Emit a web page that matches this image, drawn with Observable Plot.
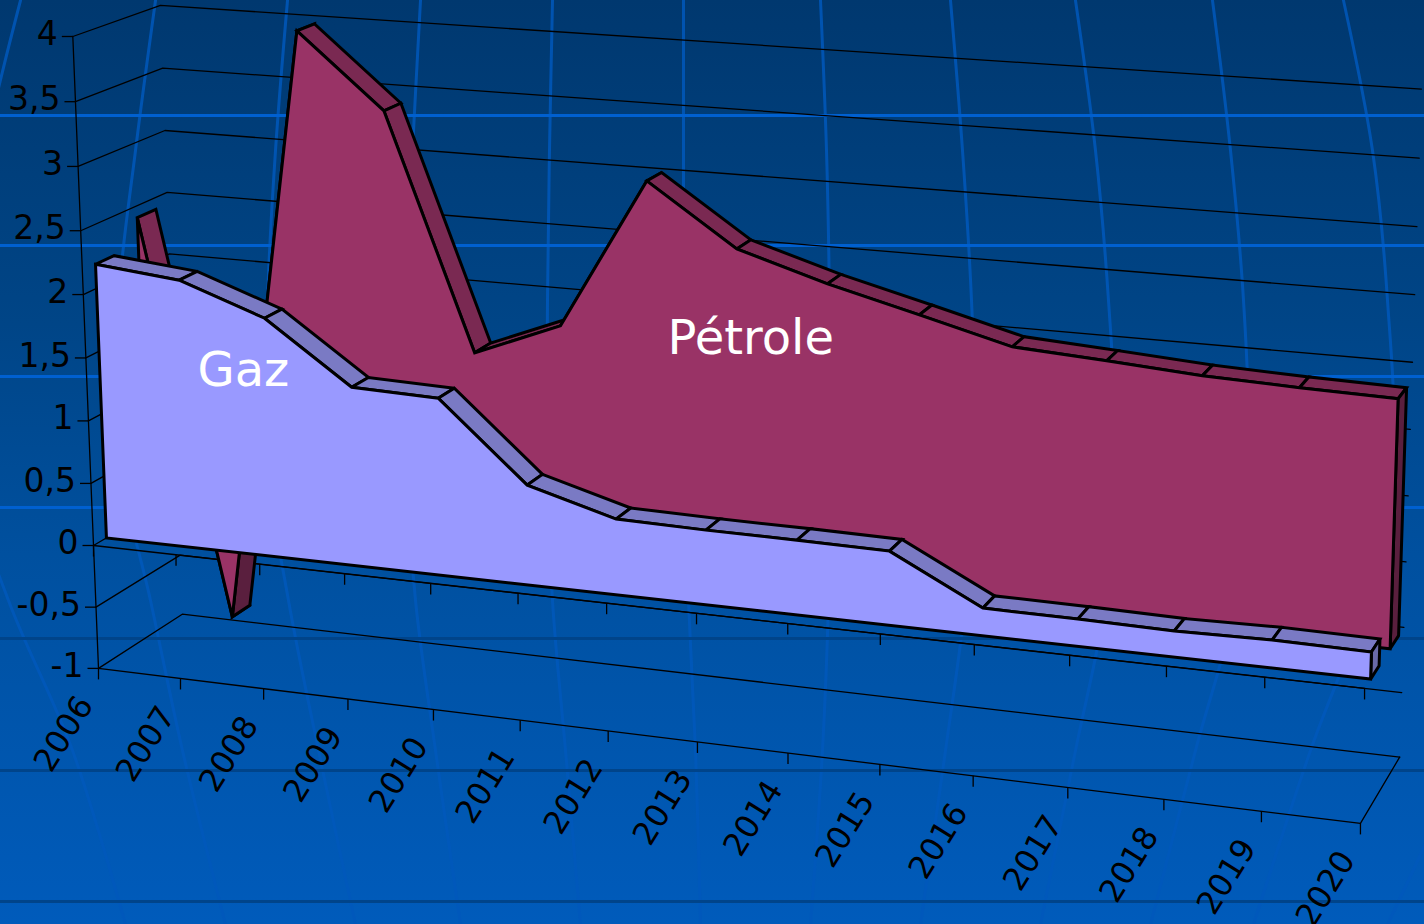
<!DOCTYPE html>
<html lang="fr">
<head>
<meta charset="utf-8">
<title>Gaz et Pétrole</title>
<script src="https://cdn.jsdelivr.net/npm/d3@7"></script>
<script src="https://cdn.jsdelivr.net/npm/@observablehq/plot@0.6"></script>
<style>
html,body{margin:0;padding:0;overflow:hidden;background:#004a90}
svg{display:block}
</style>
</head>
<body>
<div id="chart"></div>
<script>
// ---- chart values ----
const years = [2006,2007,2008,2009,2010,2011,2012,2013,2014,2015,2016,2017,2018,2019,2020];
const gaz = [2.19,2.123,1.885,1.409,1.389,0.782,0.59,0.578,0.575,0.566,0.21,0.206,0.195,0.208,0.2];
const petrole = [2.405,-0.784,3.975,3.402,1.567,1.841,3.017,2.553,2.345,2.17,1.99,1.948,1.901,1.877,1.861];
const yTicks = [-1,-0.5,0,0.5,1,1.5,2,2.5,3,3.5,4];
const yTickLabels = ["-1","-0,5","0","0,5","1","1,5","2","2,5","3","3,5","4"];

// ---- depth slots of the two series in the 3D box (0 = front wall, 1 = back wall) ----
const gazDepth = [0.148, 0.36];
const petroleDepth = [0.64, 0.86];

// ---- slide background ornaments (a globe drawn behind the chart) ----
const brightParallels = [115,245,376,507];
const darkParallels = [638,770,901];
const meridianRows = [0,150,300,450,600,750,924];
const meridians = [
  [20,-16,-40,-40,8,72,125],
  [155,135,118,117,150,182,225],
  [287,275,267,265,288,318,355],
  [420,412,405,405,415,435,460],
  [552,549,547,547,552,565,580],
  [683,683,683,683,688,695,700],
  [820,826,829,830,828,822,810],
  [950,962,971,975,965,945,920],
  [1075,1095,1108,1115,1105,1075,1040],
  [1212,1230,1243,1248,1235,1195,1150],
  [1343,1372,1387,1392,1365,1310,1253],
  [1480,1520,1540,1545,1510,1465,1387]
];

// ---- perspective camera: (year index, value, depth) -> picture position ----
const cam = {p:-0.00695,q:-0.0069,r:0.040,a0:93,a1:81.31,a2:-5.67,a3:91.63,b0:545,b1:5.43,b2:-127.5,b3:-30};
function project(i,v,w){
  const D = 1+cam.p*i+cam.q*v+cam.r*w;
  return [(cam.a0+cam.a1*i+cam.a2*v+cam.a3*w)/D,(cam.b0+cam.b1*i+cam.b2*v+cam.b3*w)/D];
}
const px = d => project(d.i,d.v,d.w)[0];
const py = d => project(d.i,d.v,d.w)[1];
const P = (i,v,w) => ({i,v,w});

const BLACK = "#000";
function poly(rows,fill){
  return Plot.line(rows,{x:px,y:py,curve:"linear-closed",fill,stroke:BLACK,strokeWidth:3,strokeLinejoin:"miter",strokeMiterlimit:3});
}
function thin(rows,width=1.3){
  return Plot.line(rows,{x:px,y:py,stroke:BLACK,strokeWidth:width});
}
function solid(values,depth,frontFill,topFill,underFill,endFill){
  const [w1,w2] = depth, n = values.length-1, marks = [];
  for(let k=0;k<n;k++){
    const under = values[k+1]>values[k] && values[k]<0;
    marks.push(poly([P(k,values[k],w1),P(k+1,values[k+1],w1),P(k+1,values[k+1],w2),P(k,values[k],w2)],under?underFill:topFill));
  }
  marks.push(poly([P(n,0,w1),P(n,values[n],w1),P(n,values[n],w2),P(n,0,w2)],endFill));
  const front = values.map((v,k)=>P(k,v,w1));
  front.push(P(n,0,w1),P(0,0,w1));
  marks.push(poly(front,frontFill));
  return marks;
}

const meridianRowsData = meridians.flatMap((m,k)=>m.map((x,j)=>({k,x,y:meridianRows[j]})));
const idx = d3.range(years.length);

const chart = Plot.plot({
  width:1424,height:924,
  marginTop:0,marginRight:0,marginBottom:0,marginLeft:0,
  x:{domain:[0,1424],range:[0,1424],axis:null},
  y:{domain:[0,924],range:[0,924],axis:null},
  style:{background:"linear-gradient(180deg,#00386f 0%,#004587 35%,#00509f 60%,#005bbb 100%)",display:"block"},
  marks:[
    // ornaments
    Plot.line(meridianRowsData,{x:"x",y:"y",z:"k",curve:"catmull-rom",stroke:"#0058bb",strokeWidth:3,strokeOpacity:0.85}),
    Plot.ruleY(brightParallels,{stroke:"#0060d0",strokeWidth:3}),
    Plot.ruleY(darkParallels,{stroke:"#00448a",strokeWidth:3}),
    // walls and grid
    ...yTicks.map(v=>thin([P(0,v,0),P(0,v,1),P(14,v,1)])),
    thin([P(0,-1,0),P(0,4,0)]),
    thin([P(0,-1,0),P(14,-1,0),P(14,-1,1)]),
    thin([P(0,0,0),P(14,0,0)]),
    // tick marks
    Plot.link(yTicks,{x1:v=>project(0,v,0)[0],y1:v=>project(0,v,0)[1],x2:v=>project(0,v,0)[0]-11,y2:v=>project(0,v,0)[1],stroke:BLACK,strokeWidth:1.3}),
    Plot.link(idx,{x1:i=>project(i,0,0)[0],y1:i=>project(i,0,0)[1],x2:i=>project(i,0,0)[0],y2:i=>project(i,0,0)[1]+11,stroke:BLACK,strokeWidth:1.3}),
    Plot.link(idx,{x1:i=>project(i,-1,0)[0],y1:i=>project(i,-1,0)[1],x2:i=>project(i,-1,0)[0],y2:i=>project(i,-1,0)[1]+11,stroke:BLACK,strokeWidth:1.3}),
    // series
    ...solid(petrole,petroleDepth,"#993366","#7a2952","#5a1f3e","#5a1f3e"),
    ...solid(gaz,gazDepth,"#9999ff","#7a7ac4","#7a7ac4","#6a6aa8"),
    // axis labels
    Plot.text(yTicks,{x:v=>project(0,v,0)[0]-15,y:v=>project(0,v,0)[1]-2,text:(v,k)=>yTickLabels[k],textAnchor:"end",fontSize:33,fontFamily:"DejaVu Sans",fill:BLACK}),
    Plot.text(idx,{x:i=>project(i,-1,0)[0]-13,y:i=>project(i,-1,0)[1]+31,text:i=>String(years[i]),textAnchor:"end",rotate:-58,fontSize:32,fontFamily:"DejaVu Sans",fill:BLACK}),
    // series names
    Plot.text(["Gaz"],{x:()=>project(1.73,1.454,0.148)[0],y:()=>project(1.73,1.454,0.148)[1],text:d=>d,fontSize:48,fontFamily:"DejaVu Sans",fill:"#fff"}),
    Plot.text(["Pétrole"],{x:()=>project(7.15,1.875,0.64)[0],y:()=>project(7.15,1.875,0.64)[1],text:d=>d,fontSize:48,fontFamily:"DejaVu Sans",fill:"#fff"})
  ]
});
document.getElementById("chart").append(chart);
</script>
</body>
</html>
